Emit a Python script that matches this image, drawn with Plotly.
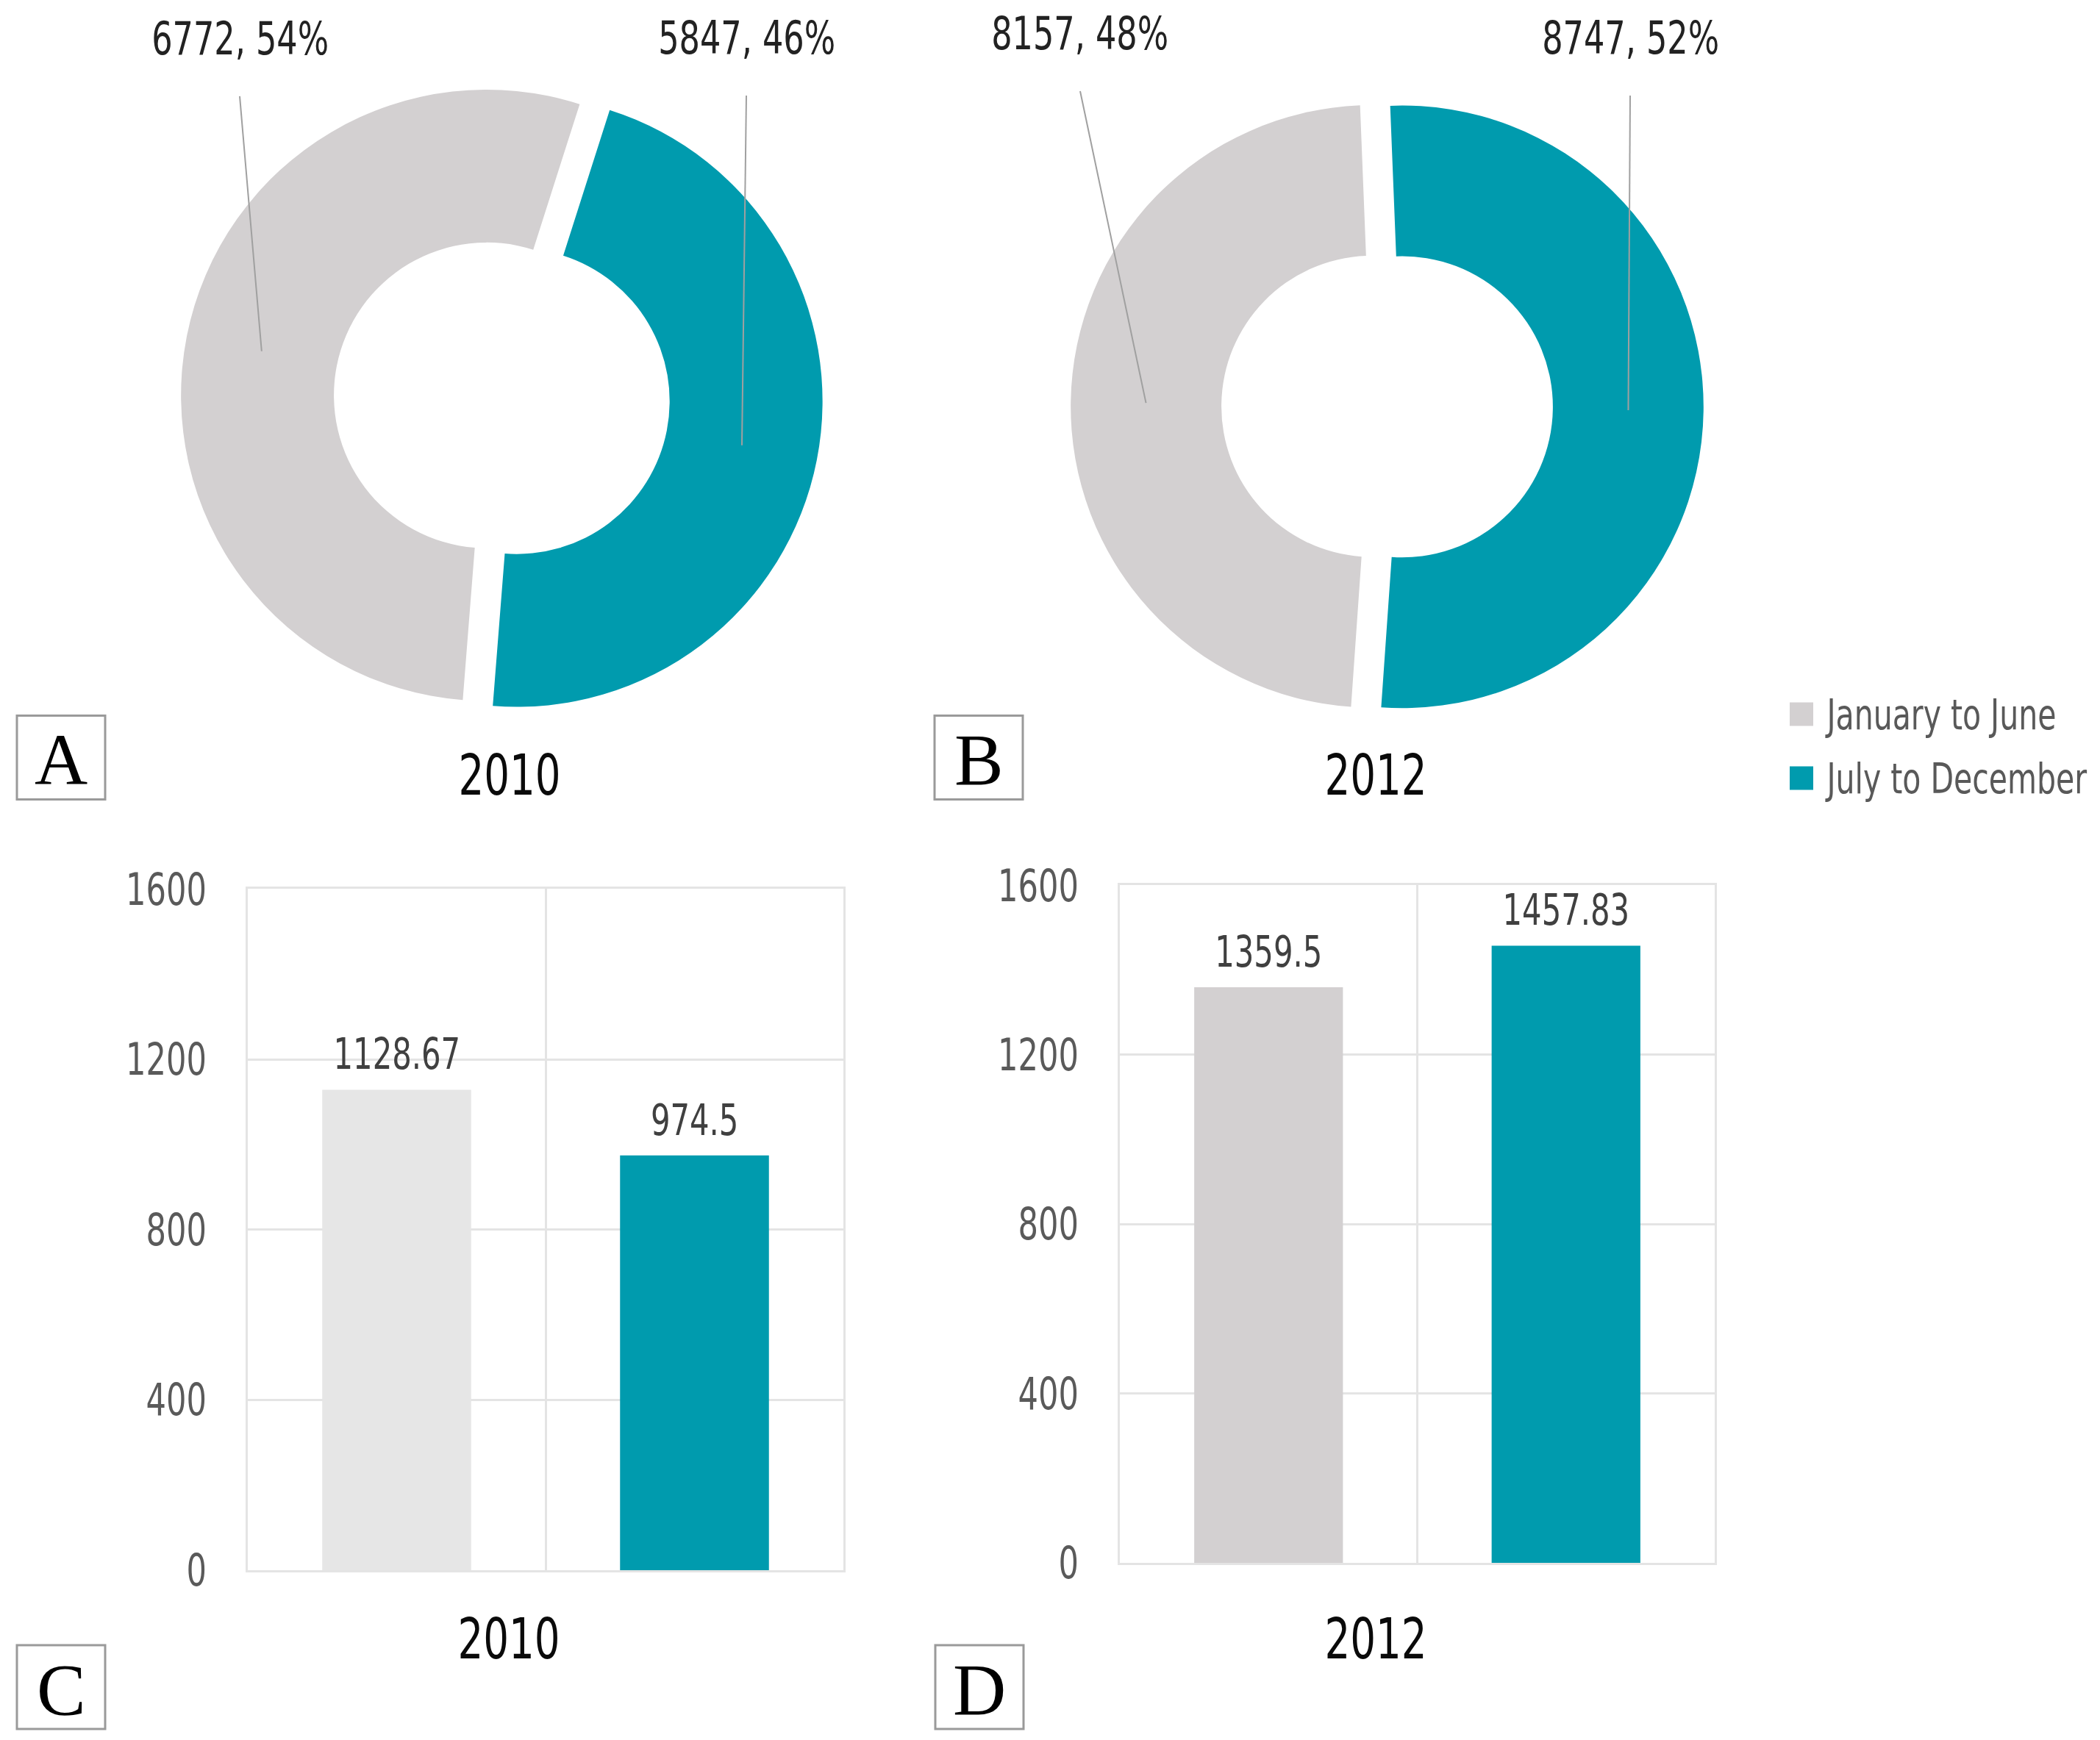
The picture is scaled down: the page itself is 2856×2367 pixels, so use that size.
import math
import json
import plotly.graph_objects as go

# ---------------- data ----------------
periods = ["January to June", "July to December"]
years = ["2010", "2012"]
counts_2010 = [6772, 5847]
counts_2012 = [8157, 8747]
means_2010 = [1128.67, 974.5]
means_2012 = [1359.5, 1457.83]
y_tick_vals = [0, 400, 800, 1200, 1600]
panel_letters = ["A", "B", "C", "D"]

# ---------------- style ----------------
W, H = 2856, 2367
# the page is photographed with the figure drawn into rows OFF..OFF+HE of the picture
OFF, HE = 34, 2298
GRAY = "#d3d0d1"
LIGHT_GRAY = "#e6e6e6"
TEAL = "#009bae"
GRID = "#e4e4e4"
FONT = "Liberation Sans Narrow, Arial Narrow, DejaVu Sans Condensed, sans-serif"
SERIF = "Liberation Serif, Times New Roman, serif"
NARROW = 0.8  # horizontal squeeze applied to the sans texts (narrow face look)


def px(x):
    return x / W


def py(y):
    return 1 - (y - OFF) / HE


fig = go.Figure()

# ---------------- donuts ----------------
HOLE = 0.5
PULL = [0, 0.1]
pies = [
    dict(values=counts_2010, rotation=184.5, cx=662, cy=537, r=416,
         label_x=[326, 1015], label_y=[52, 51]),
    dict(values=counts_2012, rotation=184, cx=1866, cy=552, r=410,
         label_x=[1469, 2217], label_y=[45, 51]),
]

shapes = []
annotations = []

for p in pies:
    size = 2 * p["r"] * (1 + max(PULL))
    x0, x1 = p["cx"] - size / 2, p["cx"] + size / 2
    y0, y1 = p["cy"] - size / 2, p["cy"] + size / 2
    fig.add_trace(go.Pie(
        labels=periods, values=p["values"], hole=HOLE, sort=False,
        direction="clockwise", rotation=p["rotation"], pull=PULL,
        marker=dict(colors=[GRAY, TEAL], line=dict(width=0)),
        textinfo="none", showlegend=False,
        domain=dict(x=[px(x0), px(x1)], y=[py(y1), py(y0)]),
    ))
    total = sum(p["values"])
    angle = p["rotation"]
    for i, v in enumerate(p["values"]):
        span = 360 * v / total
        mid = math.radians(angle + span / 2)
        angle += span
        ox = p["cx"] + PULL[i] * p["r"] * math.sin(mid)
        oy = p["cy"] - PULL[i] * p["r"] * math.cos(mid)
        rr = p["r"] * (1 + HOLE) / 2
        ax_, ay_ = ox + rr * math.sin(mid), oy - rr * math.cos(mid)
        lx, ly = p["label_x"][i], p["label_y"][i]
        shapes.append(dict(type="line", xref="paper", yref="paper",
                           x0=px(lx), y0=py(ly + 78), x1=px(ax_), y1=py(ay_),
                           line=dict(color="#a0a0a0", width=2)))
        pct = round(100 * v / total)
        annotations.append(dict(text=f"{v}, {pct}%", xref="paper", yref="paper",
                                x=px(lx), y=py(ly), xanchor="center", yanchor="middle",
                                showarrow=False, font=dict(family=FONT, size=62, color="#222222")))

# ---------------- bars ----------------
bar_x = [i + 0.5 for i in range(len(periods))]
bar_panels = [
    dict(values=means_2010, colors=[LIGHT_GRAY, TEAL], xd=(337, 1147), yd=(2136, 1209), ax=""),
    dict(values=means_2012, colors=[GRAY, TEAL], xd=(1523, 2332), yd=(2126, 1204), ax="2"),
]
for b in bar_panels:
    fig.add_trace(go.Bar(
        x=bar_x, y=b["values"], width=0.5, marker=dict(color=b["colors"], line=dict(width=0)),
        xaxis="x" + b["ax"], yaxis="y" + b["ax"], showlegend=False, hoverinfo="y",
    ))
    for xi, v in zip(bar_x, b["values"]):
        annotations.append(dict(text=str(v), x=xi, y=v, xref="x" + b["ax"], yref="y" + b["ax"],
                                xanchor="center", yanchor="bottom", yshift=12, showarrow=False,
                                font=dict(family=FONT, size=58, color="#404040")))
    axis_common = dict(showgrid=True, gridcolor=GRID, gridwidth=3, zeroline=False,
                       showline=True, mirror=True, linecolor=GRID, linewidth=3)
    fig.update_layout(**{
        "xaxis" + b["ax"]: dict(domain=[px(b["xd"][0]), px(b["xd"][1])], range=[0, len(periods)],
                                tickvals=list(range(len(periods) + 1)), showticklabels=False,
                                ticks="", fixedrange=True, anchor="y" + b["ax"], **axis_common),
        "yaxis" + b["ax"]: dict(domain=[py(b["yd"][0]), py(b["yd"][1])], range=[0, 1600],
                                tickvals=y_tick_vals, ticks="", ticklabelstandoff=41,
                                tickfont=dict(family=FONT, size=60, color="#5a5a5a"),
                                fixedrange=True, anchor="x" + b["ax"], **axis_common),
    })

# ---------------- year titles ----------------
title_pos = [(693, 1054), (1871, 1054), (692, 2229), (1871, 2229)]
for (tx, ty), yr in zip(title_pos, years + years):
    annotations.append(dict(text=yr, xref="paper", yref="paper", x=px(tx), y=py(ty),
                            xanchor="center", yanchor="middle", showarrow=False,
                            font=dict(family=FONT, size=76, color="#0a0a0a")))

# ---------------- panel letters ----------------
box_pos = [(23, 973), (1271, 973), (23, 2238), (1272, 2238)]
for (bx, by), letter in zip(box_pos, panel_letters):
    shapes.append(dict(type="rect", xref="paper", yref="paper",
                       x0=px(bx), x1=px(bx + 120), y0=py(by + 114), y1=py(by),
                       line=dict(color="#9a9a9a", width=3), fillcolor="white"))
    annotations.append(dict(text=letter, xref="paper", yref="paper", x=px(bx + 60), y=py(by + 60),
                            xanchor="center", yanchor="middle", showarrow=False,
                            font=dict(family=SERIF, size=100, color="#000000")))

# ---------------- legend ----------------
legend_rows = [971, 1058]
for row_y, name, col in zip(legend_rows, periods, [GRAY, TEAL]):
    shapes.append(dict(type="rect", xref="paper", yref="paper",
                       x0=px(2434), x1=px(2466), y0=py(row_y + 16), y1=py(row_y - 16),
                       line=dict(width=0), fillcolor=col))
    annotations.append(dict(text=name, xref="paper", yref="paper", x=px(2480), y=py(row_y),
                            xanchor="left", yanchor="middle", showarrow=False,
                            font=dict(family=FONT, size=57, color="#595959")))

fig.update_layout(
    width=W, height=H, margin=dict(l=0, r=0, t=0, b=0),
    paper_bgcolor="white", plot_bgcolor="white",
    shapes=shapes, annotations=annotations, showlegend=False,
    font=dict(family=FONT),
)

post = """
document.documentElement.style.margin='0';
document.body.style.margin='0';
document.body.style.overflow='hidden';
(function(){
  var s = %s;
  var leftNames = %s;
  function squeeze(t, mode){
    if (t.getAttribute('data-sq')) return;
    var ff = (t.getAttribute('style') || '');
    if (ff.indexOf('Serif') >= 0) return;
    var bb = t.getBBox();
    var ox = mode === 'left' ? bb.x : (mode === 'right' ? bb.x + bb.width : bb.x + bb.width / 2);
    var old = t.getAttribute('transform') || '';
    t.setAttribute('transform', old + ' translate(' + ox + ',0) scale(' + s + ',1) translate(' + (-ox) + ',0)');
    t.setAttribute('data-sq', '1');
  }
  document.querySelectorAll('text.annotation-text').forEach(function(t){
    squeeze(t, leftNames.indexOf(t.textContent) >= 0 ? 'left' : 'center');
  });
  document.querySelectorAll('g.ytick text, g.y2tick text').forEach(function(t){ squeeze(t, 'right'); });
})();
""" % (NARROW, json.dumps(periods))

fig.write_html("out.html", post_script=post, config={"displayModeBar": False})
